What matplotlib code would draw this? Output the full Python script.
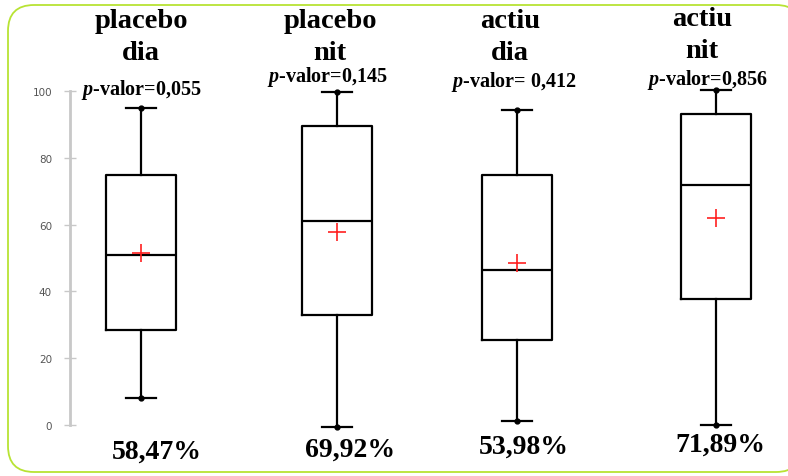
import numpy as np
import matplotlib.pyplot as plt
from matplotlib.patches import FancyBboxPatch

plt.rcParams['mathtext.fontset'] = 'custom'
plt.rcParams['mathtext.bfit'] = 'Liberation Serif:italic:bold'
plt.rcParams['mathtext.rm'] = 'Liberation Serif:bold'

# data (scale 0-100)
groups = ['placebo\ndia', 'placebo\nnit', 'actiu\ndia', 'actiu\nnit']
whis_lo = [8.1, -0.6, 1.2, 0.0]
q1 = [28.4, 32.9, 25.4, 37.7]
median = [51.0, 61.2, 46.4, 71.9]
q3 = [74.9, 89.5, 74.9, 93.1]
whis_hi = [95.0, 99.7, 94.3, 100.3]
means = [51.5, 57.8, 48.5, 62.0]
pvalues = ['0,055', '0,145', ' 0,412', '0,856']
percents = ['58,47%', '69,92%', '53,98%', '71,89%']

# layout (positions on x, pixel spots for labels)
positions = [1.0, 2.0, 2.918, 3.934]
title_xy = [(141, 22), (330, 22), (510, 22), (702, 20)]
pval_xy = [(141, 90), (327, 77), (514, 82), (707, 80)]
pct_xy = [(157, 452), (350, 450), (524, 447), (720, 445)]

W, H = 788, 477
fig = plt.figure(figsize=(W / 100, H / 100), dpi=100)

# background axes in pixel units, for the frame and the labels
bg = fig.add_axes([0, 0, 1, 1], zorder=0)
bg.set_xlim(0, W)
bg.set_ylim(H, 0)
bg.axis('off')
frame = FancyBboxPatch((8, 6), 794, 467,
                       boxstyle='round,pad=0,rounding_size=26',
                       fc='white', ec='#b8e334', lw=1.3)
bg.add_patch(frame)

ax = fig.add_axes([70 / W, (H - 426) / H, (788 - 70) / W, (426 - 92) / H],
                  zorder=1)
ax.patch.set_alpha(0)

stats = []
for i in range(len(groups)):
    stats.append(dict(whislo=whis_lo[i], q1=q1[i], med=median[i],
                      q3=q3[i], whishi=whis_hi[i], mean=means[i],
                      fliers=[]))

ax.bxp(stats, positions=positions, widths=0.357, showmeans=True,
       showfliers=False, manage_ticks=False,
       boxprops=dict(color='black', lw=1.6),
       medianprops=dict(color='black', lw=1.6),
       whiskerprops=dict(color='black', lw=1.6),
       capprops=dict(color='black', lw=1.6),
       capwidths=0.15,
       meanprops=dict(marker='+', markeredgecolor='#ff2020',
                      markersize=12.5, markeredgewidth=1.2))
for art in ax.lines:
    art.set_clip_on(False)

# small dots at the whisker ends
ax.plot(positions, whis_lo, 'o', color='black', ms=3.5, clip_on=False)
ax.plot(positions, whis_hi, 'o', color='black', ms=3.5, clip_on=False)

ax.set_xlim(0.638, 4.301)
ax.set_ylim(0, 100)
ax.set_yticks([0, 20, 40, 60, 80, 100])
ax.set_xticks([])
for s in ['top', 'right', 'bottom']:
    ax.spines[s].set_visible(False)
ax.spines['left'].set_color('#c8c8c8')
ax.spines['left'].set_linewidth(2)
ax.tick_params(axis='y', direction='inout', length=8, width=1,
               color='#c8c8c8', labelcolor='#555555', labelsize=7.5, pad=9)

for i in range(len(groups)):
    top, bottom = groups[i].split('\n')
    x, y = title_xy[i]
    bg.text(x, y, top, ha='center', va='center', family='Liberation Serif',
            fontweight='bold', fontsize=20.5)
    bg.text(x, y + 31, bottom, ha='center', va='center',
            family='Liberation Serif', fontweight='bold', fontsize=20.5)
    x, y = pval_xy[i]
    bg.text(x, y, r'$\mathbfit{p}$-valor=' + pvalues[i], ha='center',
            va='center', family='Liberation Serif', fontweight='bold',
            fontsize=14.5)
    x, y = pct_xy[i]
    bg.text(x, y, percents[i], ha='center', va='center',
            family='Liberation Serif', fontweight='bold', fontsize=20)

fig.savefig('out.png', dpi=100)
